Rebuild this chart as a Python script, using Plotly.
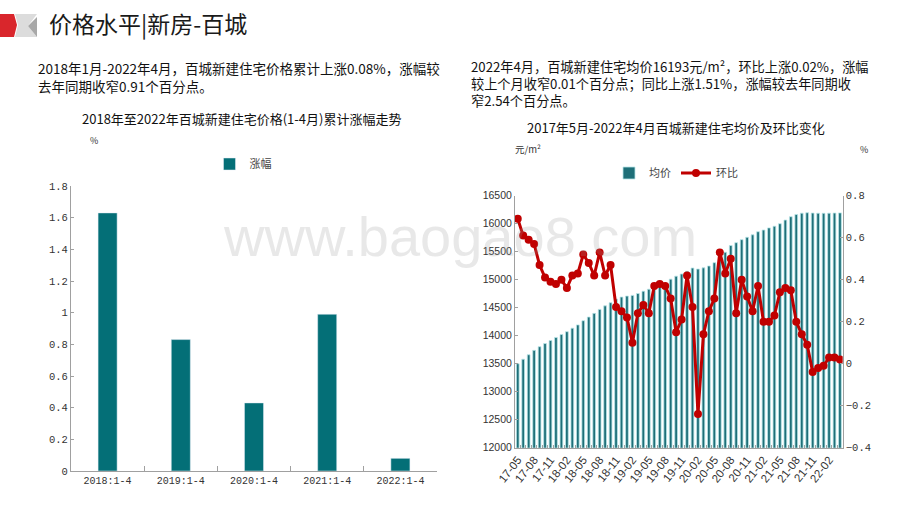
import plotly.graph_objects as go

W, H = 920, 518


def px(x):
    return x / W


def py(y):
    return 1 - y / H


# ---------------- data ----------------
left_categories = ["2018:1-4", "2019:1-4", "2020:1-4", "2021:1-4", "2022:1-4"]
left_growth = [1.63, 0.83, 0.43, 0.99, 0.08]

years = ["17", "18", "19", "20", "21", "22"]
month_nums = ["01", "02", "03", "04", "05", "06", "07", "08", "09", "10", "11", "12"]
months = [f"{y}-{m}" for y in years for m in month_nums]
months = months[months.index("17-05"): months.index("22-04") + 1]

avg_price = [
    13500, 13580, 13660, 13738, 13804, 13860, 13914, 13968, 14021, 14072,
    14134, 14193, 14268, 14333, 14399, 14470, 14533, 14590, 14655, 14690,
    14708, 14720, 14753, 14795, 14830, 14863, 14896, 14935, 15010, 15063,
    15102, 15149, 15209, 15190, 15212, 15245, 15304, 15379, 15490, 15610,
    15661, 15715, 15757, 15802, 15857, 15887, 15925, 15955, 16000, 16065,
    16125, 16165, 16188, 16196, 16190, 16187, 16186, 16188, 16190, 16193,
]

mom_change = [
    0.69, 0.61, 0.59, 0.57, 0.47, 0.41, 0.39, 0.38, 0.40, 0.36,
    0.42, 0.43, 0.52, 0.48, 0.42, 0.53, 0.42, 0.47, 0.27, 0.25,
    0.22, 0.10, 0.24, 0.28, 0.24, 0.37, 0.38, 0.37, 0.31, 0.15,
    0.21, 0.42, 0.27, -0.24, 0.14, 0.25, 0.31, 0.53, 0.43, 0.50,
    0.24, 0.40, 0.32, 0.25, 0.37, 0.20, 0.20, 0.23, 0.34, 0.36,
    0.35, 0.20, 0.14, 0.09, -0.04, -0.02, -0.01, 0.03, 0.03, 0.02,
]

month_ticktext = [m if i % 3 == 0 else "" for i, m in enumerate(months)]

# ---------------- styles ----------------
CJK = "Noto Sans CJK SC"
MONO = "Liberation Mono"
SANS = "Liberation Sans"
AXIS_GREY = "#A0A0A0"
TXT = "#222222"
TEAL = "#046F77"
RED = "#C00000"

fig = go.Figure()

fig.add_trace(go.Bar(
    x=left_categories, y=left_growth, name="涨幅",
    marker=dict(color=TEAL), width=0.26, showlegend=True,
    xaxis="x", yaxis="y", legend="legend",
))

fig.add_trace(go.Bar(
    x=months, y=avg_price, name="均价",
    marker=dict(color="#1E6F78", line=dict(color="#B9E6E9", width=0.8)),
    width=0.5, showlegend=True, xaxis="x2", yaxis="y2", legend="legend2",
))

fig.add_trace(go.Scatter(
    x=months, y=mom_change, name="环比", mode="lines+markers",
    line=dict(color=RED, width=3), marker=dict(color=RED, size=8),
    showlegend=True, xaxis="x2", yaxis="y3", legend="legend2",
))

axis_common = dict(
    showline=True, linecolor=AXIS_GREY, linewidth=1, automargin=False,
    ticks="inside", tickcolor=AXIS_GREY, showgrid=False, zeroline=False,
)

fig.update_layout(
    width=W, height=H, autosize=False,
    margin=dict(l=0, r=0, t=0, b=0, autoexpand=False),
    paper_bgcolor="white", plot_bgcolor="rgba(0,0,0,0)",
    font=dict(family=CJK, color=TXT),
    barmode="overlay", showlegend=True,
    xaxis=dict(
        type="category", domain=[px(71), px(437)], anchor="y", range=[-0.5, 4.5],
        tickson="boundaries", ticklen=5,
        tickfont=dict(family=MONO, size=10, color="#333"),
        **axis_common,
    ),
    yaxis=dict(
        domain=[py(471), py(186)], anchor="x", range=[0, 1.8], dtick=0.2,
        ticklen=3, tickfont=dict(family=MONO, size=10.5, color="#333"),
        **axis_common,
    ),
    xaxis2=dict(
        type="category", domain=[px(515), px(842.7)], anchor="y2", range=[-0.5, 59.5],
        tickmode="array", tickvals=months, ticktext=month_ticktext,
        tickangle=-52, ticklen=3, tickson="boundaries",
        tickfont=dict(family=SANS, size=11.5, color="#333"),
        **axis_common,
    ),
    yaxis2=dict(
        domain=[py(447.7), py(195.7)], anchor="x2", range=[12000, 16500],
        dtick=500, ticklen=3, tickformat="d",
        tickfont=dict(family=SANS, size=10.5, color="#333"),
        **axis_common,
    ),
    yaxis3=dict(
        overlaying="y2", side="right", anchor="x2", range=[-0.4, 0.8],
        dtick=0.2, ticklen=3,
        tickfont=dict(family=MONO, size=10.5, color="#333"),
        **axis_common,
    ),
    legend=dict(
        x=px(243), y=py(164), xanchor="center", yanchor="middle",
        orientation="h", font=dict(size=11, color="#444"),
        bgcolor="rgba(0,0,0,0)",
    ),
    legend2=dict(
        x=px(676), y=py(173), xanchor="center", yanchor="middle",
        orientation="h", font=dict(size=11, color="#444"),
        bgcolor="rgba(0,0,0,0)", itemwidth=30,
    ),
)

annotations = [
    # page header
    dict(text="价格水平|新房-百城", x=px(47), y=py(23), xanchor="left", yanchor="middle",
         font=dict(size=23, color="#1a1a1a")),
    # left paragraph
    dict(text="2018年1月-2022年4月，百城新建住宅价格累计上涨0.08%，涨幅较<br>去年同期收窄0.91个百分点。",
         x=px(36), y=py(56), xanchor="left", yanchor="top", align="left",
         font=dict(size=13.5, color="#111")),
    # right paragraph
    dict(text="2022年4月，百城新建住宅均价16193元/m²，环比上涨0.02%，涨幅<br>较上个月收窄0.01个百分点；同比上涨1.51%，涨幅较去年同期收<br>窄2.54个百分点。",
         x=px(469), y=py(55), xanchor="left", yanchor="top", align="left",
         font=dict(size=13.2, color="#111")),
    # chart titles
    dict(text="2018年至2022年百城新建住宅价格(1-4月)累计涨幅走势", x=px(242), y=py(118),
         xanchor="center", yanchor="middle", font=dict(size=13, color="#111")),
    dict(text="2017年5月-2022年4月百城新建住宅均价及环比变化", x=px(676), y=py(128),
         xanchor="center", yanchor="middle", font=dict(size=13, color="#111")),
    # units
    dict(text="%", x=px(94), y=py(140), xanchor="center", yanchor="middle",
         font=dict(size=9, color="#333")),
    dict(text="元/m²", x=px(513), y=py(149), xanchor="left", yanchor="middle",
         font=dict(size=9.5, color="#333")),
    dict(text="%", x=px(864), y=py(149), xanchor="center", yanchor="middle",
         font=dict(size=9, color="#333")),
    # watermark
    dict(text="www.baogao8.com", x=px(460), y=py(236), xanchor="center", yanchor="middle",
         font=dict(family=SANS, size=56, color="rgba(150,150,150,0.22)")),
]
for a in annotations:
    a.setdefault("showarrow", False)
    a.setdefault("xref", "paper")
    a.setdefault("yref", "paper")
fig.update_layout(annotations=annotations)


def path(points):
    return "M " + " L ".join(f"{px(x)},{py(y)}" for x, y in points) + " Z"


shapes = [
    dict(type="path", path=path([(0, 14), (14, 14), (17, 25), (14, 37), (0, 37)]),
         fillcolor="#D9262C", line=dict(width=0)),
    dict(type="path", path=path([(15, 14), (37, 14), (28, 26), (37, 37), (15, 37), (18, 25)]),
         fillcolor="#DCDCDC", line=dict(width=0)),
    dict(type="path", path=path([(28, 26), (37, 17), (37, 37)]),
         fillcolor="#A8A8A8", line=dict(width=0)),
]
for s in shapes:
    s["xref"] = "paper"
    s["yref"] = "paper"
fig.update_layout(shapes=shapes)

fig.write_html(
    "out.html",
    config={"displayModeBar": False},
    post_script="document.body.style.margin='0px'; document.body.style.overflow='hidden';",
)
